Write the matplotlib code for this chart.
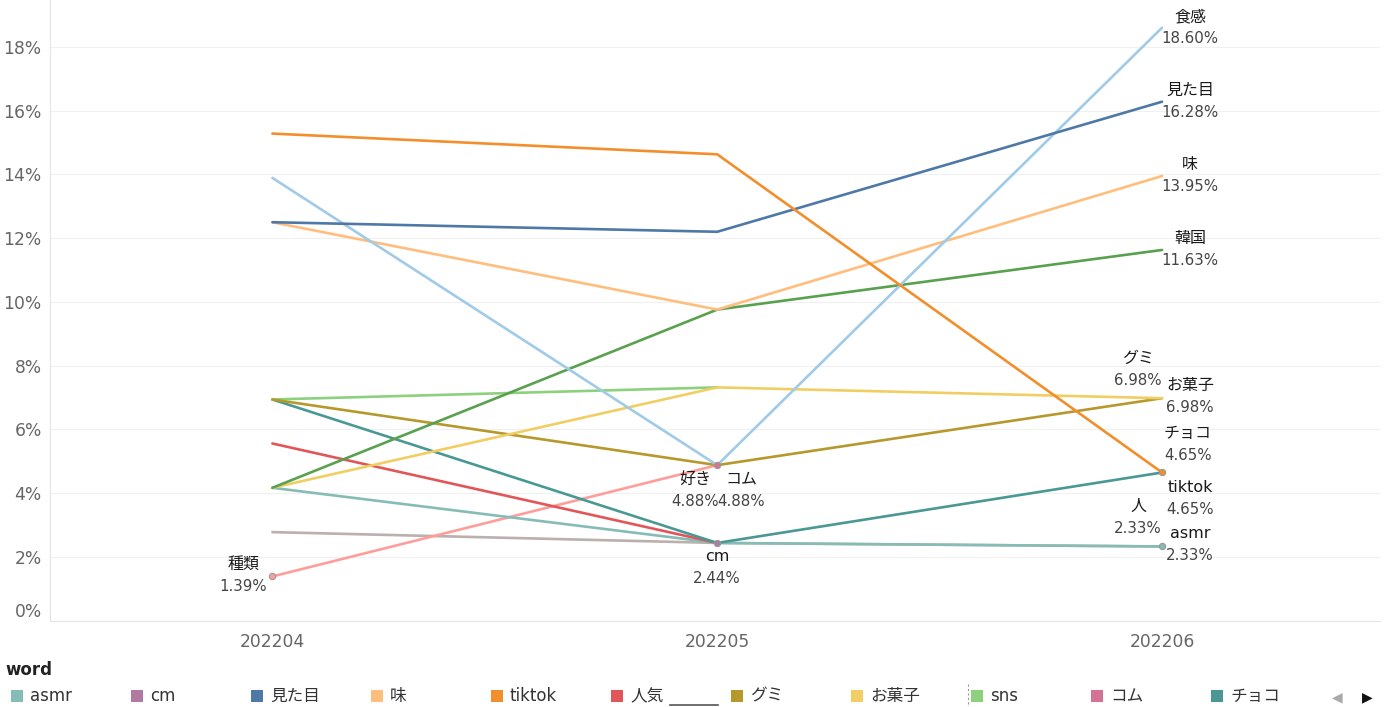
import numpy as np
import matplotlib
matplotlib.use("Agg")
import matplotlib.pyplot as plt
from matplotlib.patches import Rectangle
from matplotlib.lines import Line2D

plt.rcParams['font.family'] = ['DejaVu Sans', 'Noto Sans CJK JP']

nan = np.nan
months = ['202204', '202205', '202206']

# share of each word per month (%)
shokkan = [13.89, 4.88, 18.60]
mitame = [12.50, 12.20, 16.28]
aji = [12.50, 9.76, 13.95]
kankoku = [4.17, 9.76, 11.63]
tiktok = [15.28, 14.63, 4.65]
sns_ = [6.94, 7.32, nan]
gumi = [6.94, 4.88, 6.98]
okashi = [4.17, 7.32, 6.98]
choco = [6.94, 2.44, 4.65]
ninki = [5.56, 2.44, nan]
asmr = [4.17, 2.44, 2.33]
hito = [2.78, 2.44, 2.33]
shurui = [1.39, 4.88, nan]
cm = [nan, 2.44, nan]
komu = [nan, 4.88, nan]
suki = [nan, 4.88, nan]

series = [
    ('人', hito, '#BAB0AC'),
    ('種類', shurui, '#FF9D9A'),
    ('asmr', asmr, '#86BCB6'),
    ('人気', ninki, '#E15759'),
    ('チョコ', choco, '#499894'),
    ('sns', sns_, '#8CD17D'),
    ('グミ', gumi, '#B6992D'),
    ('お菓子', okashi, '#F1CE63'),
    ('韓国', kankoku, '#59A14F'),
    ('味', aji, '#FFBE7D'),
    ('食感', shokkan, '#A0CBE8'),
    ('見た目', mitame, '#4E79A7'),
    ('tiktok', tiktok, '#F28E2B'),
    ('cm', cm, '#B07AA1'),
    ('コム', komu, '#D37295'),
    ('好き', suki, '#FABFD2'),
]
values = {name: v for name, v, c in series}
colors = {name: c for name, v, c in series}

legend_names = ['asmr', 'cm', '見た目', '味', 'tiktok', '人気', 'グミ', 'お菓子', 'sns', 'コム', 'チョコ']

# labelled marks: (word, month index, offset in pixels)
labels = [
    ('食感', 2, (28, 0)), ('見た目', 2, (28, 0)), ('味', 2, (28, 0)),
    ('韓国', 2, (28, 0)), ('グミ', 2, (-24, 29)), ('お菓子', 2, (28, 2)),
    ('チョコ', 2, (26, 28)), ('tiktok', 2, (28, -26)), ('人', 2, (-24, 29)),
    ('asmr', 2, (28, 2)), ('好き', 1, (-22, -25)), ('コム', 1, (24, -25)),
    ('cm', 1, (0, -25)), ('種類', 0, (-29, 1)),
]
dots = [('種類', 0), ('cm', 1), ('コム', 1), ('tiktok', 2), ('asmr', 2)]

W, H = 1390, 707
fig = plt.figure(figsize=(W / 100, H / 100), dpi=100)
ax = fig.add_axes([50 / W, (H - 620.75) / H, 1330 / W, 620.75 / H])

x = np.arange(len(months))
for name, v, c in series:
    ax.plot(x, v, color=c, lw=1.9, solid_capstyle='round', zorder=2)

for name, i in dots:
    ax.plot(x[i], values[name][i], 'o', ms=4.5, mfc=colors[name], mec='#999999', mew=0.8, zorder=3)

for name, i, (dx, dy) in labels:
    v = values[name][i]
    ax.annotate(name, (x[i], v), xytext=(dx, dy + 11), textcoords='offset pixels',
                ha='center', va='center', fontsize=11.5, color='#1a1a1a')
    ax.annotate(f'{v:.2f}%', (x[i], v), xytext=(dx, dy - 11), textcoords='offset pixels',
                ha='center', va='center', fontsize=10.8, color='#444444')

ax.set_xlim(-0.5, 2.49)
ax.set_ylim(0, 19.47)
ax.set_xticks(x)
ax.set_xticklabels(months)
ax.set_yticks(np.arange(0, 19, 2))
ax.set_yticklabels([f'{t}%' for t in range(0, 19, 2)])
ax.get_yticklabels()[0].set_va('bottom')
ax.tick_params(length=0, labelsize=12.3, colors='#666666')
ax.tick_params(axis='x', pad=9)
ax.tick_params(axis='y', pad=6)
ax.grid(axis='y', color='#f0f0f0', lw=0.8, zorder=0)
for s in ['top', 'right']:
    ax.spines[s].set_visible(False)
for s in ['left', 'bottom']:
    ax.spines[s].set_color('#e4e4e4')
    ax.spines[s].set_linewidth(0.8)


def px(xp, yp):
    return xp / W, 1 - yp / H


# legend drawn underneath
fig.text(*px(5, 670), 'word', fontsize=12, color='#222222', va='center', weight='semibold')
for i, n in enumerate(legend_names):
    x0 = 17 + 120 * i
    fx, fy = px(x0 - 6, 702)
    fig.patches.append(Rectangle((fx, fy), 12 / W, 12 / H, transform=fig.transFigure,
                                 color=colors[n], lw=0))
    fig.text(*px(x0 + 13, 696), n, fontsize=12, color='#333333', va='center')
fig.lines.append(Line2D([670 / W, 718 / W], [1 - 705 / H] * 2, transform=fig.transFigure,
                        color='#555555', lw=1.2))
fig.lines.append(Line2D([968 / W] * 2, [1 - 684 / H, 0], transform=fig.transFigure,
                        color='#999999', lw=0.8, ls=(0, (2, 2))))
fig.text(*px(1337, 697), '◀', fontsize=10, color='#aaaaaa', ha='center', va='center')
fig.text(*px(1367, 697), '▶', fontsize=10, color='#111111', ha='center', va='center')

fig.savefig('out.png', dpi=100)
